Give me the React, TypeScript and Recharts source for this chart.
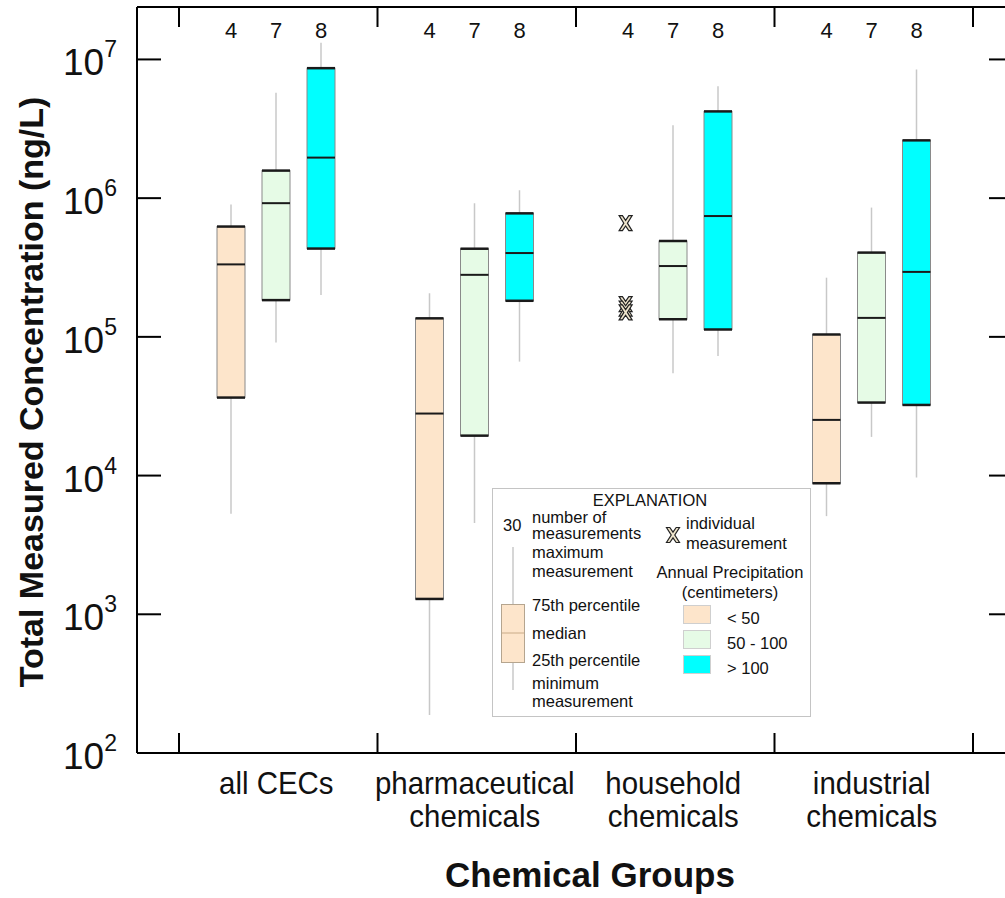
import React from 'react';
import { ComposedChart, Bar, Scatter, XAxis, YAxis, Legend } from 'recharts';

const FONT = '"Liberation Sans", Arial, sans-serif';

const GROUPS = ['all CECs', 'pharmaceutical chemicals', 'household chemicals', 'industrial chemicals'];
const GROUP_LINES = [['all CECs'], ['pharmaceutical', 'chemicals'], ['household', 'chemicals'], ['industrial', 'chemicals']];
const CLASSES = ['< 50', '50 - 100', '> 100'];
const COLORS = ['#fde5cb', '#e6fbe6', '#00ffff'];

// number of measurements per group and precipitation class
const N_LT50 = [4, 4, 4, 4];
const N_MID = [7, 7, 7, 7];
const N_GT100 = [8, 8, 8, 8];

// [minimum, 25th, median, 75th, maximum], ng/L
const BOX_LT50 = [
  [5.3e3, 3.65e4, 3.33e5, 6.24e5, 9.0e5],
  [188, 1.29e3, 2.8e4, 1.36e5, 2.06e5],
  null,
  [5.1e3, 8.8e3, 2.52e4, 1.04e5, 2.67e5],
];
const BOX_MID = [
  [9.1e4, 1.84e5, 9.2e5, 1.58e6, 5.75e6],
  [4.56e3, 1.94e4, 2.8e5, 4.32e5, 9.2e5],
  [5.47e4, 1.34e5, 3.24e5, 4.91e5, 3.35e6],
  [1.9e4, 3.36e4, 1.37e5, 4.05e5, 8.55e5],
];
const BOX_GT100 = [
  [2.0e5, 4.33e5, 1.96e6, 8.65e6, 1.32e7],
  [6.63e4, 1.82e5, 4.02e5, 7.77e5, 1.14e6],
  [7.28e4, 1.13e5, 7.43e5, 4.22e6, 6.42e6],
  [9.7e3, 3.23e4, 2.94e5, 2.61e6, 8.47e6],
];
// household chemicals, < 50 cm: individual measurements
const HOUSEHOLD_LT50_POINTS = [6.6e5, 1.72e5, 1.6e5, 1.5e5];

const Y_TICKS = [1e2, 1e3, 1e4, 1e5, 1e6, 1e7];
const SEP_TICKS = [0, 1, 2, 3, 4];
const Y_MIN = 1e2;
const Y_MAX = 10 ** 7.378;

const rows = GROUPS.map((group, i) => ({
  group,
  n: [N_LT50[i], N_MID[i], N_GT100[i]],
  stats: [BOX_LT50[i], BOX_MID[i], BOX_GT100[i]],
}));

const householdPoints = HOUSEHOLD_LT50_POINTS.map((v) => ({
  x: GROUPS.indexOf('household chemicals') + 0.25,
  y: v,
}));

const range = (k: number, a: number, b: number) => (r: any) => {
  const s = r && r.stats && r.stats[k];
  return s ? [s[a], s[b]] : null;
};

const ok = (p: any) => p && Number.isFinite(p.x) && Number.isFinite(p.y) && Number.isFinite(p.height);

const WhiskerShape = (p: any) => {
  if (!ok(p)) return <g />;
  const cx = p.x + p.width / 2;
  return <line x1={cx} x2={cx} y1={p.y} y2={p.y + p.height} stroke="#c8c8c8" strokeWidth={1.5} />;
};

const BoxShape = (p: any) => {
  if (!ok(p)) return <g />;
  const { x, y, width, height, fill } = p;
  return (
    <g>
      <rect x={x} y={y} width={width} height={height} fill={fill} stroke="#8a8a8a" strokeWidth={1} />
      <line x1={x} x2={x + width} y1={y} y2={y} stroke="#1a1a1a" strokeWidth={2.5} />
      <line x1={x} x2={x + width} y1={y + height} y2={y + height} stroke="#1a1a1a" strokeWidth={2.5} />
    </g>
  );
};

const MedianShape = (p: any) => {
  if (!ok(p)) return <g />;
  return <line x1={p.x} x2={p.x + p.width} y1={p.y} y2={p.y} stroke="#1a1a1a" strokeWidth={2} />;
};

const countShape = (k: number) => (p: any) => {
  if (!ok(p)) return <g />;
  const n = p.payload && p.payload.n ? p.payload.n[k] : '';
  return (
    <text x={p.x + p.width / 2} y={p.y + 31} textAnchor="middle" fontSize={22} fill="#111">
      {n}
    </text>
  );
};

const MarkerShape = (p: any) => {
  const { cx, cy } = p || {};
  if (!Number.isFinite(cx) || !Number.isFinite(cy)) return <g />;
  return (
    <path
      transform={`translate(${cx},${cy})`}
      d="M-6.5,-7.5 L-3.2,-7.5 L0,-2.8 L3.2,-7.5 L6.5,-7.5 L1.8,0 L6.5,7.5 L3.2,7.5 L0,2.8 L-3.2,7.5 L-6.5,7.5 L-1.8,0 Z"
      fill="#efe5cc"
      stroke="#222"
      strokeWidth={1.2}
    />
  );
};

const PowTick = ({ x, y, payload }: any) => {
  if (!payload) return <g />;
  const exp = Math.round(Math.log10(payload.value));
  return (
    <text x={x - 20} y={y + 16} textAnchor="end" fontSize={37} fill="#111">
      10<tspan dy={-18} fontSize={23}>{exp}</tspan>
    </text>
  );
};

// the group names use a slightly condensed face
const GroupTick = ({ x, y, payload }: any) => {
  if (!payload) return <g />;
  const lines = GROUP_LINES[GROUPS.indexOf(payload.value)] || [String(payload.value)];
  return (
    <g>
      {lines.map((t, i) => (
        <text
          key={i}
          transform={`translate(${x},${y + 41 + i * 33}) scale(0.95,1)`}
          textAnchor="middle"
          fontSize={31}
          fill="#111"
        >
          {t}
        </text>
      ))}
    </g>
  );
};

const XTitle = ({ viewBox }: any) => {
  if (!viewBox) return <g />;
  return (
    <text x={viewBox.x + viewBox.width / 2 + 15} y={viewBox.y + 134} textAnchor="middle" fontSize={35} fontWeight="bold" fill="#111">
      Chemical Groups
    </text>
  );
};

const YTitle = ({ viewBox }: any) => {
  if (!viewBox) return <g />;
  const x = viewBox.x + 43;
  const y = viewBox.y + viewBox.height / 2 + 12;
  return (
    <text x={x} y={y} transform={`rotate(-90, ${x}, ${y})`} textAnchor="middle" fontSize={34} fontWeight="bold" fill="#111">
      Total Measured Concentration (ng/L)
    </text>
  );
};

const Explanation = () => (
  <svg width={319} height={229} style={{ display: 'block', fontFamily: FONT }}>
    <rect x={0.5} y={0.5} width={318} height={228} fill="#fff" stroke="#c4c4c4" />
    <g fontSize={16.5} fill="#111">
      <text x={158} y={18} textAnchor="middle">EXPLANATION</text>
      <text x={11} y={43}>30</text>
      <text x={40} y={35}>number of</text>
      <text x={40} y={51}>measurements</text>
      <text x={40} y={70}>maximum</text>
      <text x={40} y={89}>measurement</text>
      <text x={40} y={123}>75th percentile</text>
      <text x={40} y={151}>median</text>
      <text x={40} y={178}>25th percentile</text>
      <text x={40} y={201}>minimum</text>
      <text x={40} y={219}>measurement</text>
      <text x={194} y={41}>individual</text>
      <text x={194} y={61}>measurement</text>
      <text x={238} y={90} textAnchor="middle">Annual Precipitation</text>
      <text x={238} y={110} textAnchor="middle">(centimeters)</text>
      {CLASSES.map((c, i) => (
        <text key={c} x={235} y={136 + i * 25}>{c}</text>
      ))}
    </g>
    <line x1={21} x2={21} y1={59} y2={202} stroke="#c8c8c8" strokeWidth={1.5} />
    <rect x={9.5} y={116.5} width={23} height={58} fill={COLORS[0]} stroke="#b5a58f" />
    <line x1={10} x2={32} y1={145} y2={145} stroke="#c9ab88" strokeWidth={1} />
    <MarkerShape cx={181} cy={47} />
    {COLORS.map((c, i) => (
      <rect key={c} x={191.5} y={117.5 + i * 25} width={27} height={18} fill={c} stroke="#cfcfcf" />
    ))}
  </svg>
);

export default function App() {
  const catAxis = { dataKey: 'group', padding: { left: 40, right: 42 } };
  const sepAxis = {
    type: 'number' as const,
    dataKey: 'x',
    domain: [0, 4],
    allowDataOverflow: true,
    ticks: SEP_TICKS,
    interval: 0,
    padding: { left: 42, right: 40 },
    mirror: true,
    tickSize: 20,
    tickFormatter: () => '',
    axisLine: { stroke: '#000', strokeWidth: 2 },
    tickLine: { stroke: '#000', strokeWidth: 2 },
  };
  const tickAxis = {
    scale: 'log' as const,
    domain: [Y_MIN, Y_MAX],
    ticks: Y_TICKS,
    allowDataOverflow: true,
    mirror: true,
    tickSize: 24,
    tickFormatter: () => '',
    axisLine: false,
    tickLine: { stroke: '#000', strokeWidth: 2 },
  };

  return (
    <div style={{ width: 1005, height: 898, overflow: 'hidden', background: '#fff', position: 'relative' }}>
      <style>{'body{margin:0}'}</style>
      <ComposedChart
        width={1020}
        height={898}
        data={rows}
        margin={{ top: 7, right: 7, bottom: 0, left: 0 }}
        barSize={28}
        barGap={17}
        style={{ fontFamily: FONT }}
      >
        <XAxis xAxisId="count" {...catAxis} hide />
        <XAxis xAxisId="whisk" {...catAxis} hide />
        <XAxis xAxisId="med" {...catAxis} hide />
        <XAxis
          xAxisId="box"
          {...catAxis}
          height={145}
          axisLine={false}
          tickLine={false}
          tickSize={0}
          tickMargin={0}
          tick={<GroupTick />}
          interval={0}
          label={<XTitle />}
        />
        <XAxis xAxisId="sep" {...sepAxis} orientation="bottom" />
        <XAxis xAxisId="sepTop" {...sepAxis} orientation="top" />
        <YAxis
          scale="log"
          domain={[Y_MIN, Y_MAX]}
          ticks={Y_TICKS}
          allowDataOverflow
          width={137}
          tickSize={0}
          tickMargin={0}
          tickLine={false}
          axisLine={{ stroke: '#000', strokeWidth: 2 }}
          tick={<PowTick />}
          label={<YTitle />}
        />
        <YAxis yAxisId="tickL" orientation="left" {...tickAxis} />
        <YAxis yAxisId="tickR" orientation="right" {...tickAxis} />

        {COLORS.map((c, k) => (
          <Bar key={`n${k}`} xAxisId="count" dataKey={() => [Y_MAX, Y_MAX]} fill={c} shape={countShape(k)} isAnimationActive={false} legendType="none" />
        ))}
        {COLORS.map((c, k) => (
          <Bar key={`w${k}`} xAxisId="whisk" dataKey={range(k, 0, 4)} fill={c} shape={WhiskerShape} isAnimationActive={false} legendType="none" />
        ))}
        {COLORS.map((c, k) => (
          <Bar key={`b${k}`} xAxisId="box" dataKey={range(k, 1, 3)} name={CLASSES[k]} fill={c} shape={BoxShape} isAnimationActive={false} />
        ))}
        {COLORS.map((c, k) => (
          <Bar key={`m${k}`} xAxisId="med" dataKey={range(k, 2, 2)} fill={c} shape={MedianShape} isAnimationActive={false} legendType="none" />
        ))}
        <Scatter xAxisId="sep" data={householdPoints} dataKey="y" shape={MarkerShape} isAnimationActive={false} legendType="none" />

        <Legend
          content={<Explanation />}
          layout="horizontal"
          verticalAlign="middle"
          align="center"
          width={319}
          height={229}
          wrapperStyle={{ left: 492, top: 488, width: 319, height: 229 }}
        />
      </ComposedChart>
    </div>
  );
}
